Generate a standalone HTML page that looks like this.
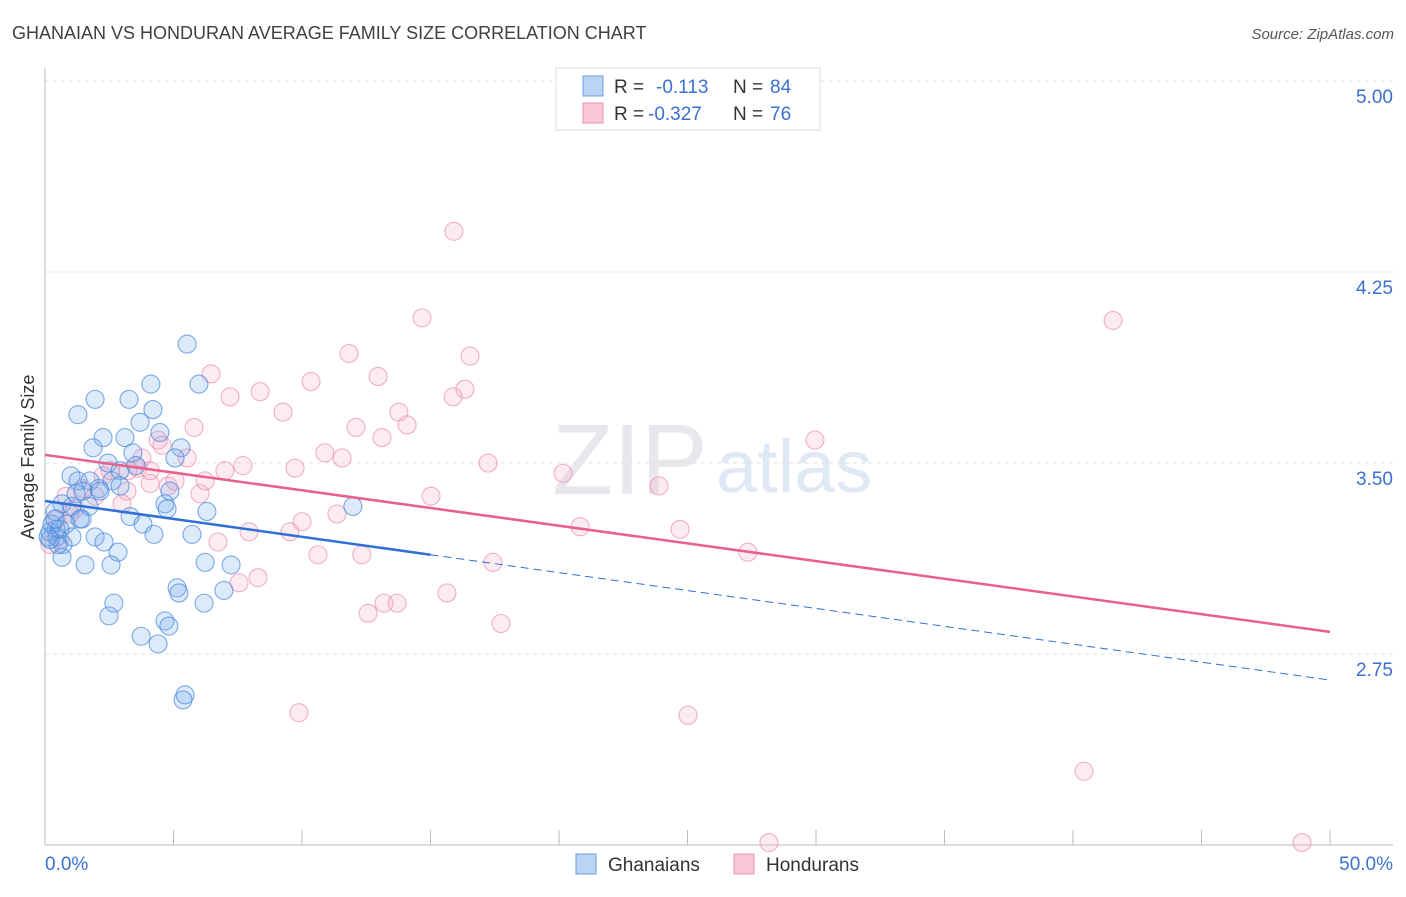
<!DOCTYPE html>
<html><head><meta charset="utf-8"><style>
body{margin:0;background:#fff;font-family:"Liberation Sans",sans-serif;}
svg text{font-family:"Liberation Sans",sans-serif;}
</style></head><body>
<svg id="chart" width="1406" height="892">
<text x="12" y="39" font-size="18" fill="#404040">GHANAIAN VS HONDURAN AVERAGE FAMILY SIZE CORRELATION CHART</text>
<text x="1394" y="39" font-size="15" fill="#555" font-style="italic" text-anchor="end">Source: ZipAtlas.com</text>
<text x="552" y="494" font-size="100" fill="#e8e8ec" font-family="Liberation Serif">ZIP</text>
<text x="716" y="492" font-size="74" fill="#dfe9f6">atlas</text>
<g id="grid"></g>
<g id="axes"></g>
<g id="pts"></g>
<g id="trend"></g>
<text transform="translate(34,457) rotate(-90)" font-size="18" fill="#333" text-anchor="middle">Average Family Size</text>
<g>
<rect x="556" y="68" width="264" height="62" fill="#fff" stroke="#ddd"/>
<rect x="583" y="76" width="20" height="20" fill="#bcd4f4" stroke="#6a9be0"/>
<text x="614" y="93" font-size="19" fill="#333">R =</text><text x="656" y="93" font-size="19" fill="#3a70d0">-0.113</text>
<text x="733" y="93" font-size="19" fill="#333">N =</text><text x="770" y="93" font-size="19" fill="#3a70d0">84</text>
<rect x="583" y="103" width="20" height="20" fill="#f9c8d8" stroke="#e895b2"/>
<text x="614" y="120" font-size="19" fill="#333">R =</text><text x="648" y="120" font-size="19" fill="#3a70d0">-0.327</text>
<text x="733" y="120" font-size="19" fill="#333">N =</text><text x="770" y="120" font-size="19" fill="#3a70d0">76</text>
</g>
<g>
<rect x="576" y="854" width="20" height="20" fill="#bcd4f4" stroke="#6a9be0"/>
<text x="608" y="871" font-size="19" fill="#333">Ghanaians</text>
<rect x="734" y="854" width="20" height="20" fill="#f9c8d8" stroke="#e895b2"/>
<text x="766" y="871" font-size="19" fill="#333">Hondurans</text>
</g>
</svg>
<script>
const yTicks=[5.00,4.25,3.50,2.75];
const xTickLabels=["0.0%","50.0%"];
const blueX=[5.53,5.99,4.12,1.95,3.27,1.28,4.20,3.70,3.11,2.26,4.47,5.29,1.87,3.42,5.06,2.45,2.92,3.54,1.01,1.28,1.75,1.48,2.10,2.61,1.21,0.66,1.05,1.71,4.67,4.75,6.30,3.31,3.81,1.44,0.39,0.82,0.43,0.19,0.47,0.70,1.05,1.95,2.30,2.84,4.24,5.72,0.66,1.56,2.57,6.23,7.24,5.14,5.21,6.96,6.19,2.68,2.49,4.67,4.82,3.74,4.40,5.45,5.37,11.98,0.51,0.27,0.12,0.58,1.36,2.14,2.92,4.86,0.19,0.39];
const blueY=[3.967,3.81,3.81,3.75,3.75,3.69,3.71,3.66,3.60,3.60,3.62,3.56,3.56,3.54,3.52,3.50,3.47,3.49,3.45,3.43,3.43,3.39,3.40,3.43,3.38,3.34,3.33,3.33,3.34,3.32,3.31,3.29,3.26,3.28,3.31,3.26,3.24,3.23,3.21,3.18,3.21,3.21,3.19,3.15,3.22,3.22,3.13,3.10,3.10,3.11,3.10,3.01,2.99,3.00,2.95,2.95,2.90,2.88,2.86,2.82,2.79,2.59,2.57,3.33,3.18,3.26,3.21,3.24,3.28,3.39,3.41,3.39,3.20,3.28];
const pinkX=[15.91,14.67,41.56,11.83,16.54,12.96,6.46,10.35,16.34,15.88,8.37,7.20,13.77,9.26,14.09,5.80,12.10,13.11,29.96,4.40,4.55,10.89,11.56,5.53,3.77,7.70,7.00,9.73,17.24,20.16,3.23,3.62,2.26,4.09,4.79,3.19,6.03,15.02,23.89,0.82,1.48,3.00,1.17,0.47,10.00,11.36,20.82,24.71,7.94,9.53,6.73,27.35,10.62,12.33,17.43,7.55,8.29,15.64,13.19,13.70,12.57,17.74,9.88,25.02,40.43,28.17,48.91,0.19,0.58,0.97,1.95,5.06,2.53,4.09,6.23];
const pinkY=[4.41,4.07,4.06,3.93,3.92,3.84,3.85,3.82,3.79,3.76,3.78,3.76,3.70,3.70,3.65,3.64,3.64,3.60,3.59,3.59,3.57,3.54,3.52,3.52,3.52,3.49,3.47,3.48,3.50,3.46,3.47,3.48,3.45,3.42,3.41,3.39,3.38,3.37,3.41,3.37,3.40,3.34,3.32,3.28,3.27,3.30,3.25,3.24,3.23,3.23,3.19,3.15,3.14,3.14,3.11,3.03,3.05,2.99,2.95,2.95,2.91,2.87,2.52,2.51,2.29,2.01,2.01,3.18,3.20,3.30,3.37,3.43,3.47,3.47,3.43];
const blueTrend=[3.351,2.648];
const pinkTrend=[3.532,2.837];
const ns="http://www.w3.org/2000/svg";
const X=p=>45+p*25.7, Y=v=>81+(5-v)*254.7;
function mk(t,a,parent){const e=document.createElementNS(ns,t);for(const k in a)e.setAttribute(k,a[k]);document.getElementById(parent).appendChild(e);return e;}
yTicks.forEach(v=>{
 const g=mk('line',{x1:45,x2:1393,y1:Y(v),y2:Y(v),stroke:'#e2e2e2','stroke-dasharray':'4,4'},'grid');
 
 
 const t=mk('text',{x:1393,y:Y(v)+22,'font-size':19,fill:'#3a70d0','text-anchor':'end'},'grid');
 t.textContent=v.toFixed(2);
 
 
});
const ax=mk('line',{x1:45,x2:45,y1:68,y2:845,stroke:'#bbb'},'axes');


const bx=mk('line',{x1:45,x2:1393,y1:845,y2:845,stroke:'#bbb'},'axes');


for(let i=1;i<=10;i++){const tk=mk('line',{x1:X(i*5),x2:X(i*5),y1:830,y2:845,stroke:'#bbb'},'axes');
 
 }
xTickLabels.forEach((s,i)=>{const t=mk('text',{x:i?1393:45,y:870,'font-size':19,fill:'#3a70d0','text-anchor':i?'end':'start'},'axes');t.textContent=s;
 
 });
function dots(xs,ys,fill,stroke,name){xs.forEach((x,i)=>{const c=mk('circle',{cx:X(x),cy:Y(ys[i]),r:9,fill:fill,stroke:stroke,'stroke-width':1.1},'pts');
 
 });}
dots(pinkX,pinkY,'rgba(244,165,195,0.22)','rgba(232,135,170,0.65)','honduran-point');
dots(blueX,blueY,'rgba(120,170,235,0.25)','rgba(70,135,220,0.7)','ghanaian-point');
const bAt=p=>blueTrend[0]+(blueTrend[1]-blueTrend[0])*p/50;
const l1=mk('line',{x1:X(0),y1:Y(bAt(0)),x2:X(15),y2:Y(bAt(15)),stroke:'#2f6fd6','stroke-width':2.5},'trend');


const l2=mk('line',{x1:X(15),y1:Y(bAt(15)),x2:X(50),y2:Y(bAt(50)),stroke:'#2f6fd6','stroke-width':1,'stroke-dasharray':'8,5'},'trend');


const l3=mk('line',{x1:X(0),y1:Y(pinkTrend[0]),x2:X(50),y2:Y(pinkTrend[1]),stroke:'#e8608e','stroke-width':2.5},'trend');


</script>
</body></html>
